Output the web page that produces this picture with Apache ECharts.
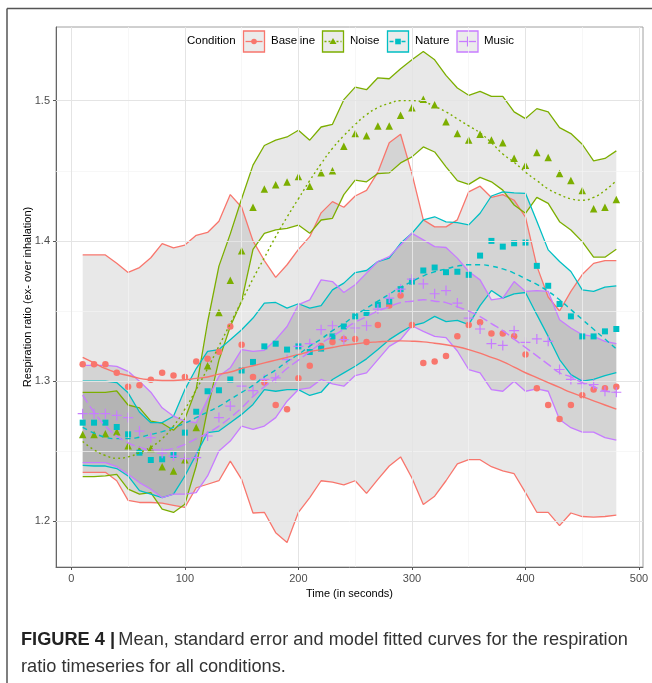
<!DOCTYPE html>
<html><head><meta charset="utf-8">
<script src="https://cdn.jsdelivr.net/npm/echarts@6/dist/echarts.min.js"></script>
<style>html,body{margin:0;padding:0;background:#fff}#c{width:652px;height:683px}</style>
</head><body><div id="c"></div>
<script>
// ---- data ----
const times = [10,20,30,40,50,60,70,80,90,100,110,120,130,140,150,160,170,180,190,200,210,220,230,240,250,260,270,280,290,300,310,320,330,340,350,360,370,380,390,400,410,420,430,440,450,460,470,480];

const baseMean = [1.312,1.312,1.312,1.306,1.296,1.297,1.301,1.306,1.304,1.303,1.314,1.316,1.321,1.339,1.326,1.303,1.299,1.283,1.280,1.302,1.311,1.325,1.328,1.330,1.330,1.328,1.340,1.354,1.361,1.340,1.313,1.314,1.318,1.332,1.340,1.342,1.334,1.334,1.332,1.319,1.295,1.283,1.273,1.283,1.290,1.294,1.295,1.296];
const baseHi = [1.390,1.390,1.390,1.384,1.3775,1.381,1.388,1.398,1.395,1.397,1.404,1.406,1.414,1.433,1.424,1.400,1.386,1.374,1.383,1.394,1.403,1.420,1.428,1.424,1.432,1.436,1.449,1.470,1.476,1.448,1.415,1.410,1.410,1.415,1.435,1.439,1.431,1.433,1.429,1.417,1.382,1.360,1.350,1.364,1.376,1.384,1.386,1.386];
const baseLo = [1.235,1.235,1.235,1.229,1.215,1.2135,1.2135,1.213,1.2115,1.210,1.224,1.2265,1.229,1.243,1.230,1.206,1.2065,1.192,1.185,1.2065,1.217,1.229,1.228,1.226,1.229,1.220,1.230,1.2395,1.246,1.231,1.212,1.218,1.229,1.241,1.244,1.244,1.239,1.236,1.234,1.2205,1.2065,1.2065,1.197,1.206,1.2035,1.203,1.2035,1.2045];
const baseFit = [1.317,1.313,1.309,1.306,1.304,1.302,1.301,1.3005,1.3005,1.301,1.302,1.303,1.305,1.3065,1.309,1.311,1.313,1.315,1.317,1.319,1.321,1.3225,1.324,1.3255,1.3265,1.3275,1.328,1.3285,1.3287,1.3285,1.328,1.327,1.326,1.3245,1.3225,1.320,1.317,1.314,1.310,1.306,1.3025,1.299,1.2955,1.292,1.289,1.286,1.283,1.280];

const noiseMean = [1.262,1.262,1.2625,1.264,1.254,1.251,1.252,1.239,1.236,1.244,1.267,1.311,1.349,1.372,1.393,1.424,1.437,1.440,1.442,1.446,1.439,1.4485,1.450,1.4675,1.4765,1.475,1.482,1.482,1.4895,1.495,1.501,1.497,1.485,1.4765,1.472,1.476,1.472,1.470,1.459,1.454,1.463,1.4595,1.448,1.443,1.436,1.423,1.424,1.4296];
const noiseHi = [1.292,1.292,1.292,1.293,1.283,1.281,1.2715,1.270,1.265,1.273,1.2945,1.342,1.382,1.405,1.430,1.454,1.468,1.4718,1.4741,1.4789,1.4718,1.4812,1.4831,1.5007,1.5096,1.5078,1.5163,1.5156,1.5227,1.5291,1.535,1.5291,1.518,1.509,1.5038,1.5066,1.5031,1.5031,1.492,1.4872,1.4943,1.492,1.4808,1.4765,1.4689,1.457,1.4588,1.4642];
const noiseLo = [1.232,1.232,1.2325,1.2336,1.223,1.2194,1.2206,1.2087,1.2064,1.2123,1.2395,1.280,1.315,1.339,1.357,1.394,1.4054,1.4078,1.409,1.4113,1.4054,1.4149,1.4161,1.433,1.4433,1.4421,1.448,1.4485,1.4556,1.4599,1.467,1.4634,1.4528,1.443,1.4403,1.4453,1.4421,1.4362,1.4256,1.4197,1.431,1.4268,1.4137,1.4078,1.3995,1.3884,1.3884,1.394];
const noiseFit = [1.257,1.251,1.247,1.245,1.246,1.249,1.253,1.259,1.268,1.280,1.294,1.309,1.325,1.341,1.357,1.373,1.388,1.403,1.417,1.430,1.443,1.455,1.466,1.475,1.483,1.490,1.495,1.498,1.500,1.500,1.499,1.496,1.492,1.487,1.482,1.477,1.470,1.462,1.456,1.449,1.443,1.437,1.433,1.430,1.429,1.431,1.436,1.443];

const natureMean = [1.2704,1.2704,1.2704,1.2673,1.2621,1.249,1.2438,1.2443,1.2474,1.2633,1.2782,1.2928,1.2935,1.3012,1.3076,1.3137,1.3248,1.3267,1.3225,1.3248,1.3208,1.3232,1.3319,1.339,1.3462,1.3486,1.3545,1.3568,1.3656,1.371,1.3789,1.381,1.3777,1.378,1.3758,1.3895,1.400,1.3959,1.3983,1.3988,1.3822,1.368,1.355,1.3462,1.3319,1.3319,1.3355,1.3372];
const natureHi = [1.300,1.300,1.300,1.299,1.2917,1.278,1.2704,1.2704,1.275,1.294,1.309,1.3213,1.3225,1.3296,1.3367,1.345,1.3557,1.3561,1.3521,1.3552,1.3521,1.3538,1.3651,1.3699,1.3774,1.3789,1.3853,1.3877,1.3983,1.4054,1.4149,1.4172,1.4135,1.413,1.4114,1.4197,1.432,1.435,1.4343,1.4339,1.414,1.3936,1.3853,1.3782,1.3651,1.364,1.367,1.368];
const natureLo = [1.240,1.2395,1.2395,1.2377,1.2324,1.222,1.2194,1.217,1.2194,1.2324,1.2478,1.2633,1.2644,1.2704,1.2763,1.2834,1.294,1.2928,1.294,1.294,1.2898,1.2921,1.3012,1.3059,1.3106,1.3159,1.3225,1.3296,1.3348,1.3395,1.3415,1.3462,1.3425,1.3433,1.3403,1.3538,1.3646,1.3592,1.3623,1.3632,1.3474,1.3319,1.3154,1.3047,1.300,1.3012,1.304,1.306];
const natureFit = [1.267,1.263,1.260,1.259,1.259,1.260,1.262,1.264,1.267,1.270,1.274,1.278,1.282,1.287,1.292,1.297,1.303,1.308,1.314,1.319,1.325,1.330,1.336,1.341,1.347,1.352,1.357,1.362,1.367,1.371,1.375,1.378,1.380,1.382,1.383,1.383,1.382,1.380,1.377,1.373,1.369,1.364,1.358,1.351,1.344,1.337,1.330,1.323];

const musicMean = [1.2768,1.2768,1.2768,1.2756,1.274,1.2644,1.2597,1.2486,1.2466,1.2448,1.2455,1.2609,1.274,1.2822,1.2964,1.2932,1.3012,1.3024,1.3154,1.3248,1.3267,1.3367,1.3395,1.3296,1.3379,1.3395,1.3514,1.3592,1.3656,1.3727,1.3694,1.3623,1.3646,1.3557,1.345,1.3372,1.3267,1.3255,1.336,1.3277,1.3301,1.3284,1.3083,1.3012,1.2983,1.2976,1.2928,1.2921];
const musicHi = [1.3113,1.3113,1.3113,1.3106,1.307,1.300,1.2921,1.281,1.275,1.2715,1.2704,1.287,1.3035,1.3095,1.3225,1.3213,1.322,1.3296,1.339,1.3545,1.358,1.3722,1.371,1.3632,1.3687,1.377,1.3853,1.3888,1.3971,1.4054,1.4007,1.3959,1.3953,1.3877,1.3782,1.3722,1.358,1.3592,1.371,1.364,1.3646,1.364,1.3438,1.3379,1.3331,1.3319,1.3284,1.3267];
const musicLo = [1.2419,1.2419,1.2419,1.239,1.2336,1.2277,1.223,1.217,1.2194,1.2194,1.2206,1.2324,1.2502,1.2573,1.268,1.2656,1.268,1.274,1.2857,1.294,1.2952,1.3012,1.298,1.2964,1.304,1.3059,1.3154,1.3248,1.3296,1.3395,1.3355,1.3319,1.331,1.3215,1.3083,1.3059,1.294,1.2928,1.300,1.2928,1.2945,1.2928,1.2727,1.2668,1.2637,1.2637,1.2597,1.258];
const musicFit = [1.290,1.278,1.268,1.261,1.256,1.253,1.251,1.251,1.252,1.255,1.259,1.263,1.268,1.274,1.281,1.289,1.296,1.302,1.309,1.315,1.321,1.327,1.332,1.337,1.342,1.346,1.350,1.353,1.356,1.357,1.358,1.357,1.356,1.353,1.350,1.346,1.341,1.336,1.330,1.324,1.318,1.312,1.306,1.303,1.299,1.296,1.293,1.292];

const conditionNames = ['Baseline','Noise','Nature','Music'];
const xTicks = [0,100,200,300,400,500];
const yTicks = [1.2,1.3,1.4,1.5];
const xMinor = [50,150,250,350,450];
const yMinor = [1.25,1.35,1.45];

// ---- styling ----
const COLORS = ['#F8766D','#7CAE00','#00BFC4','#C77CFF'];
const FIT_DASH = ['solid',[2,3],[5,4],[9,4]];
const PLUS = 'path://M-0.12,-1H0.12V-0.12H1V0.12H0.12V1H-0.12V0.12H-1V-0.12H-0.12Z';
const SYMBOLS = ['circle','triangle','rect',PLUS];
const SYMSIZE = [6.5,7.5,6,10];
const FONT = 'Liberation Sans, Arial, sans-serif';

const groups = [
  {mean: baseMean, hi: baseHi, lo: baseLo, fit: baseFit},
  {mean: noiseMean, hi: noiseHi, lo: noiseLo, fit: noiseFit},
  {mean: natureMean, hi: natureHi, lo: natureLo, fit: natureFit},
  {mean: musicMean, hi: musicHi, lo: musicLo, fit: musicFit}
];

const pairs = arr => times.map((t,i)=>[t, arr[i]]);

const series = [];
// grid lines
series.push({
  type:'line', data:[], z:0, silent:true,
  markLine:{silent:true, symbol:'none', label:{show:false}, animation:false,
    data:[
      ...xMinor.map(v=>({xAxis:v, lineStyle:{color:'#f3f3f3',width:0.7,type:'solid'}})),
      ...yMinor.map(v=>({yAxis:v, lineStyle:{color:'#f3f3f3',width:0.7,type:'solid'}})),
      ...xTicks.map(v=>({xAxis:v, lineStyle:{color:'#e4e4e4',width:1,type:'solid'}})),
      ...yTicks.map(v=>({yAxis:v, lineStyle:{color:'#e4e4e4',width:1,type:'solid'}}))
    ]}
});
// ribbons
groups.forEach((g,k)=>{
  series.push({
    type:'custom', z:1, silent:true, clip:true,
    data: times.map((t,i)=>[t, g.lo[i], g.hi[i]]),
    encode:{x:0, y:[1,2]},
    renderItem:function(params, api){
      if (params.dataIndex !== 0) return null;
      const up=[], dn=[];
      for (let i=0;i<times.length;i++){
        up.push(api.coord([times[i], g.hi[i]]));
        dn.push(api.coord([times[i], g.lo[i]]));
      }
      return {type:'polygon', shape:{points: up.concat(dn.reverse())},
        style:{fill:'rgba(90,90,90,0.14)', stroke:null}};
    }
  });
});
// SE lines
groups.forEach((g,k)=>{
  ['hi','lo'].forEach(key=>{
    series.push({type:'line', z:3, data:pairs(g[key]), showSymbol:false, symbol:'none', silent:true,
      lineStyle:{color:COLORS[k], width:1.3}});
  });
});
// means
groups.forEach((g,k)=>{
  series.push({type:'scatter', z:4, name:conditionNames[k], data:pairs(g.mean), symbol:SYMBOLS[k], symbolSize:SYMSIZE[k],
    itemStyle:{color:COLORS[k], opacity:1}});
});
// fitted
groups.forEach((g,k)=>{
  series.push({type:'line', z:5, data:pairs(g.fit), smooth:true, showSymbol:false, symbol:'none', silent:true,
    lineStyle:{color:COLORS[k], width:1.4, type:FIT_DASH[k]}});
});

// legend graphic
const legendEls = [];
const legBoxX = [243.5, 322.5, 387.5, 457];
const legTextX = [271, 350, 415, 484];
const LY = 31, LH = 21, LW = 21;
legendEls.push({type:'text', left:187, top:LY+4, style:{text:'Condition', fontSize:11.5, fontFamily:FONT, fill:'#000'}});
conditionNames.forEach((nm,k)=>{
  const x = legBoxX[k], cy = LY+LH/2, cx = x+LW/2;
  legendEls.push({type:'rect', shape:{x:x, y:LY, width:LW, height:LH}, style:{fill:'#ebebeb', stroke:COLORS[k], lineWidth:1.3}});
  legendEls.push({type:'line', shape:{x1:x+2, y1:cy, x2:x+LW-2, y2:cy}, style:{stroke:COLORS[k], lineWidth:1.3, lineDash: k===0?null:(k===1?[2,2]:(k===2?[4,2]:null))}});
  if (k===0) legendEls.push({type:'circle', shape:{cx:cx, cy:cy, r:2.8}, style:{fill:COLORS[k]}});
  if (k===1) legendEls.push({type:'polygon', shape:{points:[[cx,cy-3.5],[cx+3.5,cy+2.5],[cx-3.5,cy+2.5]]}, style:{fill:COLORS[k]}});
  if (k===2) legendEls.push({type:'rect', shape:{x:cx-2.8, y:cy-2.8, width:5.6, height:5.6}, style:{fill:COLORS[k]}});
  if (k===3) legendEls.push({type:'line', shape:{x1:cx, y1:cy-5, x2:cx, y2:cy+5}, style:{stroke:COLORS[k], lineWidth:1.2}});
  legendEls.push({type:'text', left:legTextX[k], top:LY+4, style:{text:nm, fontSize:11.5, fontFamily:FONT, fill:'#000'}});
});

const caption = [
  {type:'text', left:21, top:631, style:{rich:{b:{fontWeight:'bold',fontSize:18.2,fontFamily:FONT,fill:'#222'}, n:{fontSize:18.2,fontFamily:FONT,fill:'#333'}},
    text:'{b|FIGURE 4 |} {n|Mean, standard error and model fitted curves for the respiration}'}},
  {type:'text', left:21, top:658, style:{text:'ratio timeseries for all conditions.', fontSize:18.2, fontFamily:FONT, fill:'#333'}}
];
const frame = [
  {type:'line', shape:{x1:7, y1:8.5, x2:652, y2:8.5}, style:{stroke:'#555', lineWidth:1.5}},
  {type:'line', shape:{x1:7, y1:8.5, x2:7, y2:683}, style:{stroke:'#555', lineWidth:1.5}}
];

const option = {
  animation:false,
  backgroundColor:'#fff',
  grid:{left:56, top:27, width:587, height:540, show:true, borderColor:'#a0a0a0', borderWidth:1, backgroundColor:'#fff'},
  xAxis:{type:'value', min:-13.5, max:503.5,
    name:'Time (in seconds)', nameLocation:'middle', nameGap:21, nameTextStyle:{fontSize:11, fontFamily:FONT, color:'#000'},
    axisLine:{show:true, onZero:false, lineStyle:{color:'#666', width:1}},
    axisTick:{show:true, length:3, customValues:xTicks, lineStyle:{color:'#555'}},
    axisLabel:{customValues:xTicks, margin:6, fontSize:11, fontFamily:FONT, color:'#4d4d4d'},
    splitLine:{show:false}},
  yAxis:{type:'value', min:1.1675, max:1.5525,
    name:'Respiration ratio (ex- over inhalation)', nameLocation:'middle', nameGap:23, nameMoveOverlap:false, nameTextStyle:{fontSize:11, fontFamily:FONT, color:'#000'},
    axisLine:{show:true, onZero:false, lineStyle:{color:'#666', width:1}},
    axisTick:{show:true, length:3, customValues:yTicks, lineStyle:{color:'#555'}},
    axisLabel:{customValues:yTicks, margin:6, fontSize:11, fontFamily:FONT, color:'#4d4d4d', formatter:v=>v.toFixed(1)},
    splitLine:{show:false}},
  graphic: [...frame, ...legendEls, ...caption],
  series: series
};
const chart = echarts.init(document.getElementById('c'));
chart.setOption(option);
</script></body></html>
